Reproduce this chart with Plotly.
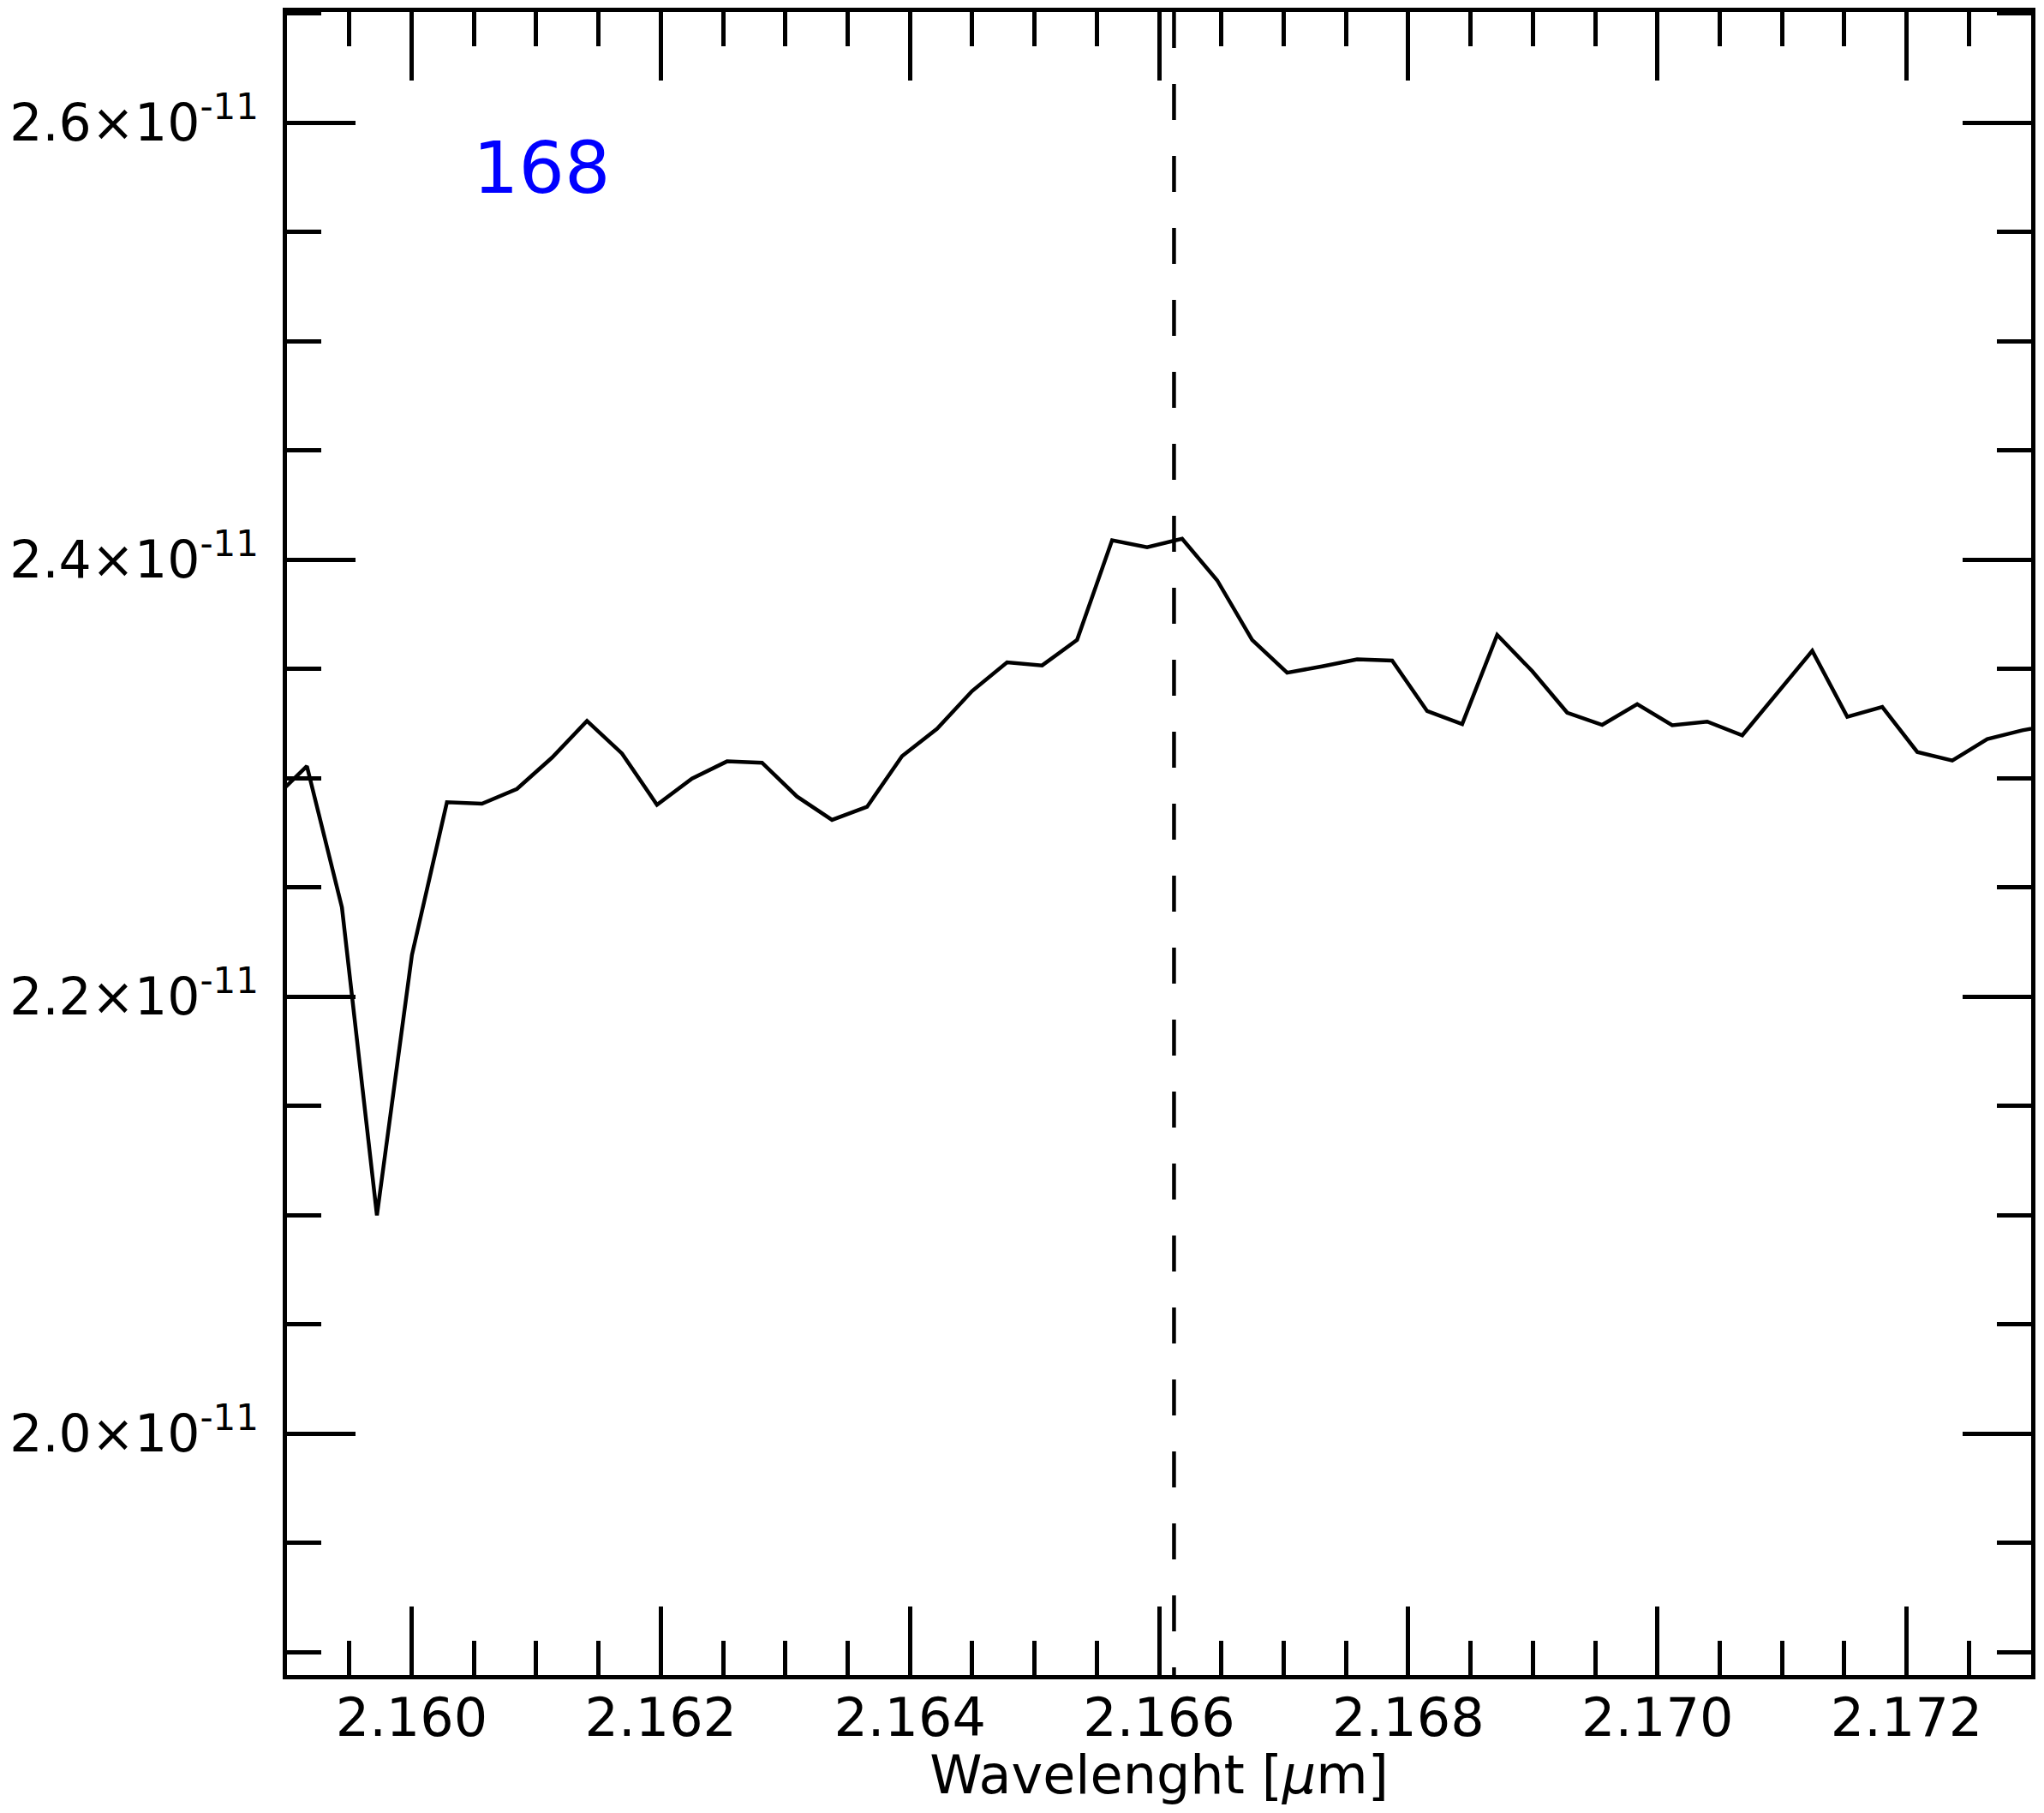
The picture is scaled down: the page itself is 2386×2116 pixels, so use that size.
import plotly.graph_objects as go

# wavelength grid (um), one sample outside each edge so the line runs off the frame
wavelength = [
    2.158879, 2.159160, 2.159441, 2.159722, 2.160003, 2.160284, 2.160565, 2.160846,
    2.161127, 2.161408, 2.161689, 2.161970, 2.162251, 2.162532, 2.162813, 2.163094,
    2.163375, 2.163656, 2.163937, 2.164218, 2.164499, 2.164780, 2.165061, 2.165342,
    2.165623, 2.165904, 2.166185, 2.166466, 2.166747, 2.167028, 2.167309, 2.167590,
    2.167871, 2.168152, 2.168433, 2.168714, 2.168995, 2.169276, 2.169557, 2.169838,
    2.170119, 2.170400, 2.170681, 2.170962, 2.171243, 2.171524, 2.171805, 2.172086,
    2.172367, 2.172648, 2.172929, 2.173210,
]

# flux in units of 1e-11
flux = [
    2.2899, 2.3055, 2.2409, 2.0999, 2.2191, 2.2890, 2.2883, 2.2951,
    2.3094, 2.3262, 2.3113, 2.2878, 2.2998, 2.3077, 2.3071, 2.2916,
    2.2809, 2.2869, 2.3101, 2.3226, 2.3399, 2.3530, 2.3516, 2.3633,
    2.4089, 2.4057, 2.4096, 2.3906, 2.3633, 2.3483, 2.3512, 2.3544,
    2.3538, 2.3307, 2.3248, 2.3656, 2.3490, 2.3300, 2.3244, 2.3339,
    2.3242, 2.3259, 2.3196, 2.3387, 2.3583, 2.3281, 2.3326, 2.3120,
    2.3081, 2.3179, 2.3219, 2.3248,
]
flux = [f * 1e-11 for f in flux]

line_center = 2.16612   # dashed marker
label = "168"

x_ticks = [2.160, 2.162, 2.164, 2.166, 2.168, 2.170, 2.172]
x_ticktext = ["2.160", "2.162", "2.164", "2.166", "2.168", "2.170", "2.172"]
y_ticks = [2.0e-11, 2.2e-11, 2.4e-11, 2.6e-11]
y_ticktext = ["2.0×10<sup>-11</sup>", "2.2×10<sup>-11</sup>",
              "2.4×10<sup>-11</sup>", "2.6×10<sup>-11</sup>"]

FONT = "DejaVu Sans"

fig = go.Figure()
fig.add_trace(go.Scatter(x=wavelength, y=flux, mode="lines",
                         line=dict(color="black", width=4.5), showlegend=False))

# vertical dashed line
fig.add_shape(type="line", xref="x", yref="paper", x0=line_center, x1=line_center,
              y0=1, y1=0, line=dict(color="black", width=4.5, dash="42px,42px"))

fig.add_annotation(x=2.16048, y=2.5795e-11, xref="x", yref="y", text=label,
                   showarrow=False, xanchor="left", yanchor="middle",
                   font=dict(family=FONT, size=84, color="#0000ff"))

axis_common = dict(showline=True, linecolor="black", linewidth=5, mirror="ticks",
                   ticks="inside", ticklen=80, tickwidth=5, tickcolor="black",
                   showgrid=False, zeroline=False, automargin=False)

fig.update_xaxes(range=[2.159, 2.173], tickmode="array", tickvals=x_ticks,
                 ticktext=x_ticktext,
                 tickfont=dict(family=FONT, size=62, color="black"),
                 minor=dict(ticks="inside", ticklen=40, tickwidth=5, tickcolor="black",
                            tick0=2.1595, dtick=0.0005, showgrid=False),
                 title=dict(text="Wavelenght [<i>μ</i>m]", standoff=0,
                            font=dict(family=FONT, size=62, color="black")),
                 ticklabelstandoff=-8,
                 **axis_common)
fig.update_yaxes(range=[1.8895e-11, 2.6507e-11], tickmode="array", tickvals=y_ticks,
                 ticktext=y_ticktext,
                 tickfont=dict(family=FONT, size=60, color="black"),
                 minor=dict(ticks="inside", ticklen=40, tickwidth=5, tickcolor="black",
                            tick0=1.9e-11, dtick=0.05e-11, showgrid=False),
                 ticklabelstandoff=16,
                 **axis_common)

# page body adds a small offset around the figure, so the figure is a bit smaller than the window
fig.update_layout(width=2370, height=2100,
                  margin=dict(l=327, r=7, t=6, b=153),
                  plot_bgcolor="white", paper_bgcolor="white",
                  font=dict(family=FONT, color="black"))

fig.write_html("out.html")
